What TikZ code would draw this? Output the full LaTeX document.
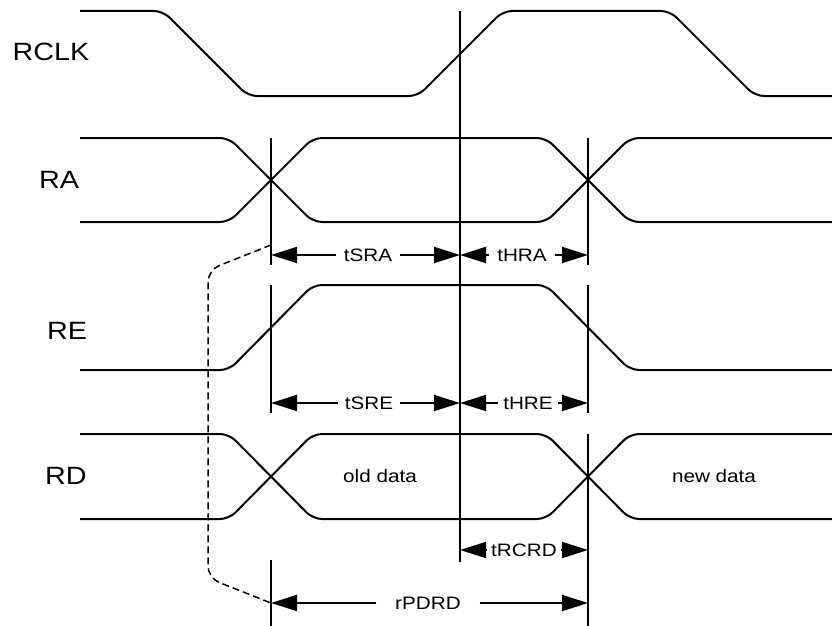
\documentclass[tikz,border=0pt]{standalone}
\usepackage{fontspec}
\setmainfont{Liberation Sans}[FakeStretch=1.15]
\usetikzlibrary{arrows.meta}

\begin{document}
\begin{tikzpicture}[x=1pt, y=-1pt,
    >={Triangle[length=26pt,width=16pt]},
    sig/.style={line width=2pt, rounded corners=9pt},
    tick/.style={line width=2pt},
    signame/.style={font=\fontsize{25}{25}\selectfont, inner sep=0pt},
    lbl/.style={font=\fontsize{18}{18}\selectfont, inner ysep=0pt},
    dim/.style={->, line width=2pt}]

  \useasboundingbox (0,0) rectangle (832,626);

  % signal names
  \node[signame] (rclk) at (51,52)  {RCLK};
  \node[signame] (ra)   at (59,180) {RA};
  \node[signame] (re)   at (67,331) {RE};
  \node[signame] (rd)   at (66,476) {RD};

  % waveforms
  \draw[sig] (80,11) -- (163,11) -- (248,96) -- (418,96) -- (503,11)
    -- (670,11) -- (755,96) -- (832,96);
  \draw[sig] (80,138) -- (229,138) -- (313,222) -- (546,222) -- (630,138) -- (832,138);
  \draw[sig] (80,222) -- (229,222) -- (313,138) -- (546,138) -- (630,222) -- (832,222);
  \draw[sig] (80,370) -- (229,370) -- (313,285) -- (546,285) -- (630,370) -- (832,370);
  \draw[sig] (80,434) -- (229,434) -- (313,519) -- (546,519) -- (630,434) -- (832,434);
  \draw[sig] (80,519) -- (229,519) -- (313,434) -- (546,434) -- (630,519) -- (832,519);

  \node[lbl] (old) at (380,476) {old data};
  \node[lbl] (new) at (714,476) {new data};

  % reference lines
  \draw[tick] (460,11) -- (460,562);
  \draw[tick] (271,138) -- (271,265);
  \draw[tick] (271,285) -- (271,413);
  \draw[tick] (271,560) -- (271,626);
  \draw[tick] (588,138) -- (588,265);
  \draw[tick] (588,285) -- (588,413);
  \draw[tick] (588,434) -- (588,626);

  \coordinate (sra0) at (271,255);
  \coordinate (sra1) at (460,255);
  \coordinate (hra1) at (588,255);
  \coordinate (sre0) at (271,403);
  \coordinate (sre1) at (460,403);
  \coordinate (hre1) at (588,403);
  \coordinate (rc0)  at (460,550);
  \coordinate (rc1)  at (588,550);
  \coordinate (pd0)  at (271,603);
  \coordinate (pd1)  at (588,603);
  \coordinate (dtop) at (271,245);

  % timing parameters
  \node[lbl, inner xsep=8pt]  (tsra)  at (368,255) {tSRA};
  \node[lbl, inner xsep=8pt]  (thra)  at (522,255) {tHRA};
  \node[lbl, inner xsep=7pt]  (tsre)  at (369,403) {tSRE};
  \node[lbl, inner xsep=5pt]  (thre)  at (528,403) {tHRE};
  \node[lbl, inner xsep=4pt]  (trcrd) at (524,550) {tRCRD};
  \node[lbl, inner xsep=19pt] (rpdrd) at (428,603) {rPDRD};

  \draw[dim] (tsra) -- (sra0);
  \draw[dim] (tsra) -- (sra1);
  \draw[dim] (thra) -- (sra1);
  \draw[dim] (thra) -- (hra1);
  \draw[dim] (tsre) -- (sre0);
  \draw[dim] (tsre) -- (sre1);
  \draw[dim] (thre) -- (sre1);
  \draw[dim] (thre) -- (hre1);
  \draw[dim] (trcrd) -- (rc0);
  \draw[dim] (trcrd) -- (rc1);
  \draw[dim] (rpdrd) -- (pd0);
  \draw[dim] (rpdrd) -- (pd1);

  \draw[line width=1.5pt, dash pattern=on 7pt off 4pt, rounded corners=12pt]
    (dtop) -- (208,270) -- (208,578) -- (pd0);
\end{tikzpicture}
\end{document}
